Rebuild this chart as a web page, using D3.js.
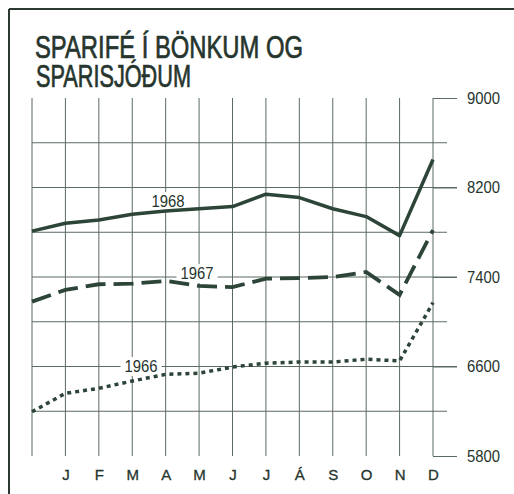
<!DOCTYPE html>
<html lang="is">
<head>
<meta charset="UTF-8">
<title>Sparifé í bönkum og sparisjóðum</title>
<style>
  body { margin: 0; background: #fff; }
  svg text { font-family: "Liberation Sans", Arial, sans-serif; fill: #26352d; }
</style>
</head>
<body>
<div id="chart" style="width: 514px;height: 494px;"></div>

<script src="https://cdnjs.cloudflare.com/ajax/libs/d3/7.8.5/d3.min.js"></script>
<script>
// months, index 0 = end of previous year
var months = ["J", "F", "M", "A", "M", "J", "J", "Á", "S", "O", "N", "D"];
var yTicks = [5800, 6600, 7400, 8200, 9000];
var gridValues = [6200, 6600, 7000, 7400, 7800, 8200, 8600];
var seriesNames = ["1968", "1967", "1966"];
var values1968 = [7810, 7880, 7910, 7960, 7990, 8010, 8030, 8140, 8110, 8010, 7940, 7770, 8450];
var values1967 = [7180, 7285, 7335, 7340, 7365, 7320, 7310, 7385, 7390, 7400, 7445, 7240, 7820];
var values1966 = [6195, 6360, 6405, 6470, 6530, 6540, 6595, 6630, 6640, 6640, 6665, 6650, 7170];

var width = 514, height = 494;
var ink = "#2d4538";
var gridInk = "#5b6b62";

var svg = d3.select("#chart").append("svg")
    .attr("width", width)
    .attr("height", height);

// frame (top and left only, the rest is cut off)
svg.append("line").attr("x1", 9).attr("y1", 9).attr("x2", width).attr("y2", 9)
    .attr("stroke", "#2a3a31").attr("stroke-width", 2);
svg.append("line").attr("x1", 9).attr("y1", 9).attr("x2", 9).attr("y2", height)
    .attr("stroke", "#2a3a31").attr("stroke-width", 2);

// title, two lines in one text
var title = svg.append("text")
    .attr("font-size", 31)
    .attr("stroke", "#26352d")
    .attr("stroke-width", 0.7);
title.append("tspan").attr("x", 35).attr("y", 58)
    .attr("textLength", 268).attr("lengthAdjust", "spacingAndGlyphs")
    .text("SPARIFÉ Í BÖNKUM OG");
title.append("tspan").attr("x", 36).attr("y", 87)
    .attr("textLength", 155).attr("lengthAdjust", "spacingAndGlyphs")
    .text("SPARISJÓÐUM");

var x = d3.scaleLinear()
    .domain([0, months.length])
    .range([32, 433]);

var y = d3.scaleLinear()
    .domain([5800, 9000])
    .range([456, 98]);

// vertical grid
svg.append("g").selectAll("line")
    .data(d3.range(0, months.length + 1))
    .enter().append("line")
    .attr("x1", function(d){ return x(d); })
    .attr("x2", function(d){ return x(d); })
    .attr("y1", y(9000))
    .attr("y2", y(5800))
    .attr("stroke", gridInk)
    .attr("stroke-width", 1);

// horizontal grid
svg.append("g").selectAll("line")
    .data(gridValues)
    .enter().append("line")
    .attr("x1", x(0))
    .attr("x2", function(d){ return yTicks.indexOf(d) >= 0 ? 457 : 447; })
    .attr("y1", function(d){ return y(d); })
    .attr("y2", function(d){ return y(d); })
    .attr("stroke", gridInk)
    .attr("stroke-width", 1);

// right axis
var yAxis = d3.axisRight(y)
    .tickValues(yTicks)
    .tickSize(24)
    .tickPadding(10)
    .tickFormat(d3.format("d"));
var gy = svg.append("g")
    .attr("transform", "translate(" + x(months.length) + ",0)")
    .call(yAxis);
gy.select(".domain").remove();
gy.selectAll("line").attr("stroke", gridInk);
gy.selectAll("text")
    .attr("font-size", 16)
    .attr("textLength", 33)
    .attr("lengthAdjust", "spacingAndGlyphs")
    .attr("fill", "#26352d");

// month labels
var xAxis = d3.axisBottom(x)
    .tickValues(d3.range(1, months.length + 1))
    .tickSize(0)
    .tickPadding(13)
    .tickFormat(function(d){ return months[d - 1]; });
var gx = svg.append("g")
    .attr("transform", "translate(0," + y(5800) + ")")
    .call(xAxis);
gx.select(".domain").remove();
gx.selectAll("text")
    .attr("font-size", 15)
    .attr("fill", "#26352d")
    .attr("stroke", "#26352d")
    .attr("stroke-width", 0.3);

// series labels with white box (gridlines are cut behind them)
var labelPos = [[168, 207], [197, 279], [141, 372]];
seriesNames.forEach(function(name, i){
    var g = svg.append("g");
    var t = g.append("text")
        .attr("x", labelPos[i][0]).attr("y", labelPos[i][1])
        .attr("text-anchor", "middle")
        .attr("font-size", 16)
        .attr("textLength", 33)
        .attr("lengthAdjust", "spacingAndGlyphs")
        .text(name);
    var b = t.node().getBBox();
    g.insert("rect", "text")
        .attr("x", b.x - 4).attr("y", b.y - 1)
        .attr("width", b.width + 8).attr("height", b.height + 2)
        .attr("fill", "#fff");
});

var line = d3.line()
    .x(function(d, i){ return x(i); })
    .y(function(d){ return y(d); });

svg.append("path").datum(values1968)
    .attr("d", line)
    .attr("fill", "none")
    .attr("stroke", ink)
    .attr("stroke-width", 3.5)
    .attr("stroke-linejoin", "round");

svg.append("path").datum(values1967)
    .attr("d", line)
    .attr("fill", "none")
    .attr("stroke", ink)
    .attr("stroke-width", 3.8)
    .attr("stroke-dasharray", "20,8");

svg.append("path").datum(values1966)
    .attr("d", line)
    .attr("fill", "none")
    .attr("stroke", ink)
    .attr("stroke-width", 3.5)
    .attr("stroke-dasharray", "4,4");
</script>
</body>
</html>
